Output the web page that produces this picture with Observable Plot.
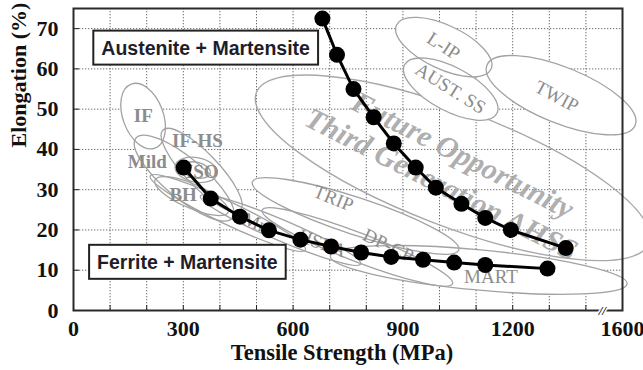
<!DOCTYPE html>
<html>
<head>
<meta charset="utf-8">
<script src="https://cdn.jsdelivr.net/npm/d3@7"></script>
<script src="https://cdn.jsdelivr.net/npm/@observablehq/plot@0.6"></script>
<style>
  html, body { margin: 0; padding: 0; background: #fff; }
</style>
</head>
<body>
<div id="chart"></div>
<script>
// Austenite + martensite steels: tensile strength (MPa) vs total elongation (%)
const amStrength = [680, 720, 765, 820, 875, 935, 990, 1060, 1125, 1195, 1345];
const amElong    = [72.5, 63.5, 55, 48, 41.5, 35.5, 30.5, 26.5, 23, 20, 15.5];

// Ferrite + martensite steels
const fmStrength = [301, 375, 455, 534, 620, 704, 786, 868, 955, 1040, 1125, 1295];
const fmElong    = [35.5, 27.8, 23.3, 19.9, 17.6, 15.9, 14.4, 13.3, 12.6, 11.9, 11.3, 10.4];

// Steel grade property envelopes: long-axis end points [MPa, %] and width/length ratio
const regionNames  = ["IF", "IF-HS", "Mild", "BH", "ISO", "ISO inner", "CMn", "HSLA", "TRIP", "DP-CP", "MART", "L-IP", "AUST. SS", "TWIP"];
const regionFrom   = [[159, 56.1], [246, 44.7], [172, 42.7], [224, 32.3], [279, 35.8], [298, 35.5], [211, 33.3], [348, 28.3], [490, 31.8], [517, 24.8], [703, 13.4], [884, 70.8], [906, 60.9], [1131, 60.8]];
const regionTo     = [[224, 40.2], [457, 24.8], [435, 22.8], [424, 24.3], [394, 33.8], [375, 34.0], [635, 14.9], [786, 11.4], [1054, 14.9], [1037, 6.5], [1514, 6.5], [1142, 59.8], [1158, 48.8], [1536, 45.9]];
const regionAspect = [0.59, 0.3, 0.32, 0.3, 0.57, 0.55, 0.13, 0.12, 0.17, 0.14, 0.135, 0.42, 0.42, 0.35];

// Third-generation AHSS target band
const bandFrom = [501, 54.0];
const bandTo = [1574, 16.6];
const bandAspect = 0.276;
const bandLines = ["Future Opportunity", "Third Generation AHSS"];
const bandLineStrength = [1063, 1005];
const bandLineElong = [38.5, 31.3];

// Grade labels and where they sit
const labelText     = ["IF", "IF-HS", "Mild", "ISO", "BH", "CMn", "HSLA", "TRIP", "DP-CP", "MART", "L-IP", "AUST. SS", "TWIP"];
const labelStrength = [192, 340, 203, 353, 301, 484, 681, 712, 862, 1142, 1013, 1032, 1322];
const labelElong    = [48.4, 42.2, 36.8, 34.3, 28.6, 22.3, 16.6, 27.8, 16.1, 8.2, 65.6, 55.1, 53.1];

// Microstructure family captions
const phaseLabels   = ["Austenite + Martensite", "Ferrite + Martensite"];
const phaseStrength = [361, 311];
const phaseElong    = [65.1, 11.9];

// Axes (the strength axis is broken after 1400 MPa)
const xTickValues = [0, 300, 600, 900, 1200, 1500];
const xTickLabels = ["0", "300", "600", "900", "1200", "1600"];
const xMinorTicks = [0, 100, 200, 300, 400, 500, 600, 700, 800, 900, 1000, 1100, 1200, 1300, 1400];
const yTickValues = [0, 10, 20, 30, 40, 50, 60, 70];
const xGridValues = [100, 200, 300, 400, 500, 600, 700, 800, 900, 1000, 1100, 1200, 1300, 1400];
const yGridValues = [10, 20, 30, 40, 50, 60, 70];
const axisBreakAt = 1445;

const amRows = amStrength.map((s, i) => ({strength: s, elong: amElong[i]}));
const fmRows = fmStrength.map((s, i) => ({strength: s, elong: fmElong[i]}));

const labelTilt = {"CMn": 22, "HSLA": 20, "TRIP": 22, "DP-CP": 26, "L-IP": 33, "AUST. SS": 32, "TWIP": 28};
const boldLabels = new Set(["IF", "IF-HS", "Mild", "ISO", "BH"]);

// Ellipse geometry in screen space from two data-space end points
function ellipseOf(scales, from, to, aspect) {
  const x1 = scales.x(from[0]), y1 = scales.y(from[1]);
  const x2 = scales.x(to[0]), y2 = scales.y(to[1]);
  const a = Math.hypot(x2 - x1, y2 - y1) / 2;
  return {
    cx: (x1 + x2) / 2, cy: (y1 + y2) / 2, rx: a, ry: a * aspect,
    angle: Math.atan2(y2 - y1, x2 - x1) * 180 / Math.PI
  };
}

function drawEllipse(sel, e) {
  return sel.append("ellipse")
    .attr("cx", e.cx).attr("cy", e.cy).attr("rx", e.rx).attr("ry", e.ry)
    .attr("transform", `rotate(${e.angle} ${e.cx} ${e.cy})`);
}

// Outline of the third-generation band (unfilled)
function bandMark(index, scales) {
  const g = d3.create("svg:g");
  drawEllipse(g, ellipseOf(scales, bandFrom, bandTo, bandAspect))
    .attr("fill", "none").attr("stroke", "#a8a8a8").attr("stroke-width", 1.4);
  return g.node();
}

// Grade envelopes: white fills first, then all outlines, then labels
function regionMark(index, scales) {
  const g = d3.create("svg:g");
  const shapes = regionFrom.map((f, i) => ellipseOf(scales, f, regionTo[i], regionAspect[i]));
  const fills = g.append("g");
  shapes.forEach(e => drawEllipse(fills, e).attr("fill", "white").attr("stroke", "none"));
  const outlines = g.append("g");
  shapes.forEach(e => drawEllipse(outlines, e).attr("fill", "none").attr("stroke", "#a2a2a2").attr("stroke-width", 1.3));
  const labels = g.append("g")
    .attr("font-family", "'Liberation Serif', 'DejaVu Serif', serif")
    .attr("font-size", 19)
    .attr("fill", "#8c8c8c");
  labelText.forEach((t, i) => {
    const px = scales.x(labelStrength[i]), py = scales.y(labelElong[i]);
    labels.append("text")
      .attr("transform", `translate(${px},${py}) rotate(${labelTilt[t] || 0})`)
      .attr("text-anchor", "middle")
      .attr("dominant-baseline", "central")
      .attr("font-weight", boldLabels.has(t) ? "bold" : "normal")
      .text(t);
  });
  return g.node();
}

const serif = "'Liberation Serif', 'DejaVu Serif', serif";

const chart = Plot.plot({
  width: 643,
  height: 370,
  marginLeft: 73,
  marginRight: 21,
  marginTop: 8,
  marginBottom: 60,
  x: {domain: [0, 1500]},
  y: {domain: [0, 75]},
  style: {fontFamily: serif, fontSize: "22px", fontWeight: "bold", color: "#111", background: "white"},
  marks: [
    Plot.gridX(xGridValues, {stroke: "#6a6a6a", strokeOpacity: 1, strokeWidth: 1, strokeDasharray: "1.3,1.7"}),
    Plot.gridY(yGridValues, {stroke: "#6a6a6a", strokeOpacity: 1, strokeWidth: 1, strokeDasharray: "1.3,1.7"}),
    bandMark,
    regionMark,
    Plot.text(bandLines, {
      x: (d, i) => bandLineStrength[i], y: (d, i) => bandLineElong[i], text: d => d,
      rotate: 27, fontSize: 30, fontStyle: "italic", fontWeight: "bold",
      fill: "#a4a4a4", fillOpacity: 0.9, fontFamily: serif
    }),
    Plot.line(amRows, {x: "strength", y: "elong", stroke: "black", strokeWidth: 3}),
    Plot.dot(amRows, {x: "strength", y: "elong", r: 8, fill: "black"}),
    Plot.line(fmRows, {x: "strength", y: "elong", stroke: "black", strokeWidth: 3}),
    Plot.dot(fmRows, {x: "strength", y: "elong", r: 8, fill: "black"}),
    Plot.text(phaseLabels, {
      x: (d, i) => phaseStrength[i], y: (d, i) => phaseElong[i], text: d => d,
      fontFamily: "'Liberation Sans', Arial, sans-serif", fontSize: 19.5, fontWeight: "bold", fill: "#1e1e2a"
    }),
    Plot.frame({stroke: "#2a2a2a", strokeWidth: 2}),
    Plot.axisX(xMinorTicks, {tickSize: -5, tickFormat: () => "", label: null, stroke: "#222"}),
    Plot.axisX(xTickValues, {
      tickSize: 0, tickPadding: 10, label: null,
      tickFormat: d => xTickLabels[xTickValues.indexOf(d)],
      fontSize: 22, fontWeight: "bold", fill: "#111"
    }),
    Plot.axisY(yTickValues, {
      tickSize: -6, tickPadding: 21, label: null,
      fontSize: 22, fontWeight: "bold", fill: "#111", stroke: "#222"
    }),
    Plot.text(["//"], {
      x: [axisBreakAt], y: [0], text: d => d, fontSize: 13, fontStyle: "italic",
      fill: "#111", stroke: "white", strokeWidth: 3, paintOrder: "stroke"
    }),
    Plot.text(["Tensile Strength (MPa)"], {
      frameAnchor: "bottom", dy: 49, dx: -6, text: d => d,
      fontSize: 22.5, fontWeight: "bold", fill: "#111"
    }),
    Plot.text(["Elongation (%)"], {
      frameAnchor: "left", dx: -55, dy: -12, rotate: -90, text: d => d,
      fontSize: 22, fontWeight: "bold", fill: "#111"
    })
  ]
});

document.getElementById("chart").appendChild(chart);

// Boxed captions: white panels with a dark border behind the family labels
chart.querySelectorAll("text").forEach(t => {
  if (!phaseLabels.includes(t.textContent)) return;
  const b = t.getBBox();
  const rect = document.createElementNS("http://www.w3.org/2000/svg", "rect");
  const padX = 8, padY = 6;
  rect.setAttribute("x", b.x - padX);
  rect.setAttribute("y", b.y - padY);
  rect.setAttribute("width", b.width + 2 * padX);
  rect.setAttribute("height", b.height + 2 * padY);
  rect.setAttribute("fill", "white");
  rect.setAttribute("stroke", "#222");
  rect.setAttribute("stroke-width", 2);
  if (t.getAttribute("transform")) rect.setAttribute("transform", t.getAttribute("transform"));
  t.parentNode.insertBefore(rect, t);
});
</script>
</body>
</html>
